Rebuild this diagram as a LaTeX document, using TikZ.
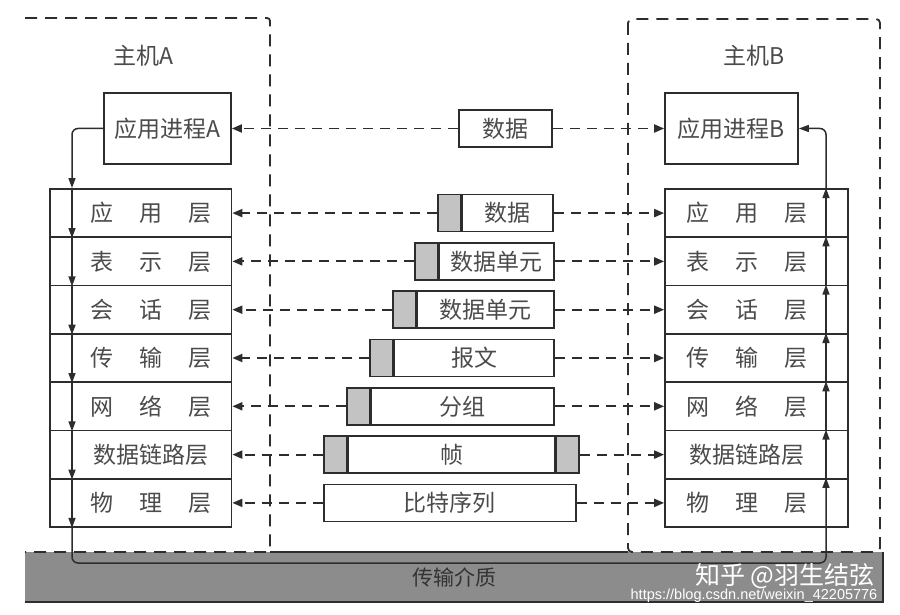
\documentclass[tikz,border=0pt]{standalone}
\usepackage{fontspec}
\newfontfamily\cjk{Noto Sans CJK SC}
\newfontfamily\urlfont{Liberation Sans}
\usetikzlibrary{arrows.meta,calc}
\definecolor{linec}{RGB}{45,45,45}
\definecolor{textc}{RGB}{75,75,75}
\definecolor{medgray}{RGB}{140,140,140}
\definecolor{hdrgray}{RGB}{195,195,195}
\newcommand\spacedtxt[3]{#1\hspace{26pt}#2\hspace{26pt}#3}
\begin{document}
\begin{tikzpicture}[x=1pt,y=-1pt,
  every node/.style={font=\cjk\fontsize{23}{26}\selectfont, text=textc},
  box/.style={draw=linec, line width=1.7pt, inner sep=0pt, fill=white},
  layer/.style={box, minimum width=181.5pt, minimum height=48.3pt},
  layerB/.style={box, minimum width=183pt, minimum height=48.3pt},
  pduhdr/.style={box, fill=hdrgray, minimum width=23pt, minimum height=37pt, anchor=west},
  pdubody/.style={box, minimum height=37pt, anchor=west},
  hostline/.style={draw=linec, line width=1.8pt, dash pattern=on 12pt off 8pt},
  solidline/.style={draw=linec, line width=1.7pt},
  dasharrow/.style={draw=linec, line width=1.9pt, dash pattern=on 10pt off 7pt, -{Triangle[length=10pt,width=8pt]}},
  flow/.style={draw=linec, line width=1.5pt, -{Triangle[length=10pt,width=7pt]}},
  medium/.style={fill=medgray, minimum width=858pt, minimum height=50pt, inner sep=0pt},
]
\fill[white] (0,0) rectangle (900,615);
\path[use as bounding box] (0,0) rectangle (900,615);

% transmission medium
\node[medium] (medium) at (454,577) {\raisebox{-3pt}{\fontsize{21}{24}\selectfont\color{black!80}传输介质}};
\draw[solidline] (medium.south west) -- (medium.south east) -- (medium.north east);

% host frames
\coordinate (hA1) at (25,18);
\coordinate (hA2) at (270,18);
\coordinate (hA3) at (270,552);
\coordinate (hA4) at (25,552);
\coordinate (hB1) at (628,19);
\coordinate (hB2) at (880,552);
\coordinate (hB3) at (628,552);
\draw[solidline] (hA3) -- (hB3);
\draw[hostline, rounded corners=3pt] (hA1) -- (hA2) -- (hA3) -- (hA4);
\draw[hostline, rounded corners=4pt] (hB1) rectangle (hB2);

\node (hostA) at (143,56) {主机A};
\node (hostB) at (754,56) {主机B};

% application processes
\node[box, minimum width=127pt, minimum height=71pt] (appA) at (167.5,128.5) {应用进程A};
\node[box, minimum width=133pt, minimum height=71pt] (appB) at (731.5,128.5) {应用进程B};
\node[box, minimum width=93pt, minimum height=37pt] (datatop) at (505.5,128.5) {数据};

% layer stacks
\foreach \i/\y/\t in {1/213.1/{\spacedtxt{应}{用}{层}},
                       2/261.4/{\spacedtxt{表}{示}{层}},
                       3/309.7/{\spacedtxt{会}{话}{层}},
                       4/358.0/{\spacedtxt{传}{输}{层}},
                       5/406.3/{\spacedtxt{网}{络}{层}},
                       6/454.6/{数据链路层},
                       7/502.9/{\spacedtxt{物}{理}{层}}} {
  \node[layer] (rA\i) at (140.75,\y) {\hspace*{20pt}\t};
  \node[layerB] (rB\i) at (756.5,\y) {\t\hspace*{19pt}};
}

% PDUs
\node[pduhdr] (h1) at (437,213.1) {};
\node[pdubody, minimum width=90.5pt] (b1) at (h1.east) {数据};
\node[pduhdr] (h2) at (414,261.4) {};
\node[pdubody, minimum width=114.5pt] (b2) at (h2.east) {数据单元};
\node[pduhdr] (h3) at (392,309.7) {};
\node[pdubody, minimum width=136.5pt] (b3) at (h3.east) {数据单元};
\node[pduhdr] (h4) at (369,358.0) {};
\node[pdubody, minimum width=159.5pt] (b4) at (h4.east) {报文};
\node[pduhdr] (h5) at (346,406.3) {};
\node[pdubody, minimum width=182.5pt] (b5) at (h5.east) {分组};
\node[pduhdr] (h6) at (323,454.6) {};
\node[pdubody, minimum width=206pt] (b6) at (h6.east) {帧};
\node[pduhdr] (t6) at (b6.east) {};
\node[pdubody, minimum width=252pt] (b7) at (323,502.9) {比特序列};

% peer dashed arrows
\draw[dasharrow] (datatop.west) -- (appA.east);
\draw[dasharrow] (datatop.east) -- (appB.west);
\foreach \i in {1,...,5} {
  \draw[dasharrow] (h\i.west) -- (rA\i.east);
  \draw[dasharrow] (b\i.east) -- (rB\i.west);
}
\draw[dasharrow] (h6.west) -- (rA6.east);
\draw[dasharrow] (t6.east) -- (rB6.west);
\draw[dasharrow] (b7.west) -- (rA7.east);
\draw[dasharrow] (b7.east) -- (rB7.west);

% data flow
\coordinate (botA) at (72,563);
\coordinate (botB) at (826,563);
\draw[flow, rounded corners=6pt] (appA.west) -| (rA1.north -| botA);
\foreach \i in {1,...,7} \draw[flow] (rA\i.north -| botA) -- (rA\i.south -| botA);
\draw[flow, rounded corners=6pt] (rA7.south -| botA) -- (botA) -- (botB) -- (rB7.north -| botB);
\foreach \i/\j in {7/6,6/5,5/4,4/3,3/2,2/1} \draw[flow] (rB\i.north -| botB) -- (rB\j.north -| botB);
\draw[flow, rounded corners=6pt] (rB1.north -| botB) |- (appB.east);

% watermark
\node[inner sep=0pt, text=white, font=\cjk\fontsize{25}{27}\selectfont] (zhihu) at (785,576) {知乎 @羽生结弦};
\node[inner sep=0pt, text=white, font=\urlfont\fontsize{14.5}{16}\selectfont] (url) at (754,596) {https://blog.csdn.net/weixin\_42205776};
\end{tikzpicture}
\end{document}
